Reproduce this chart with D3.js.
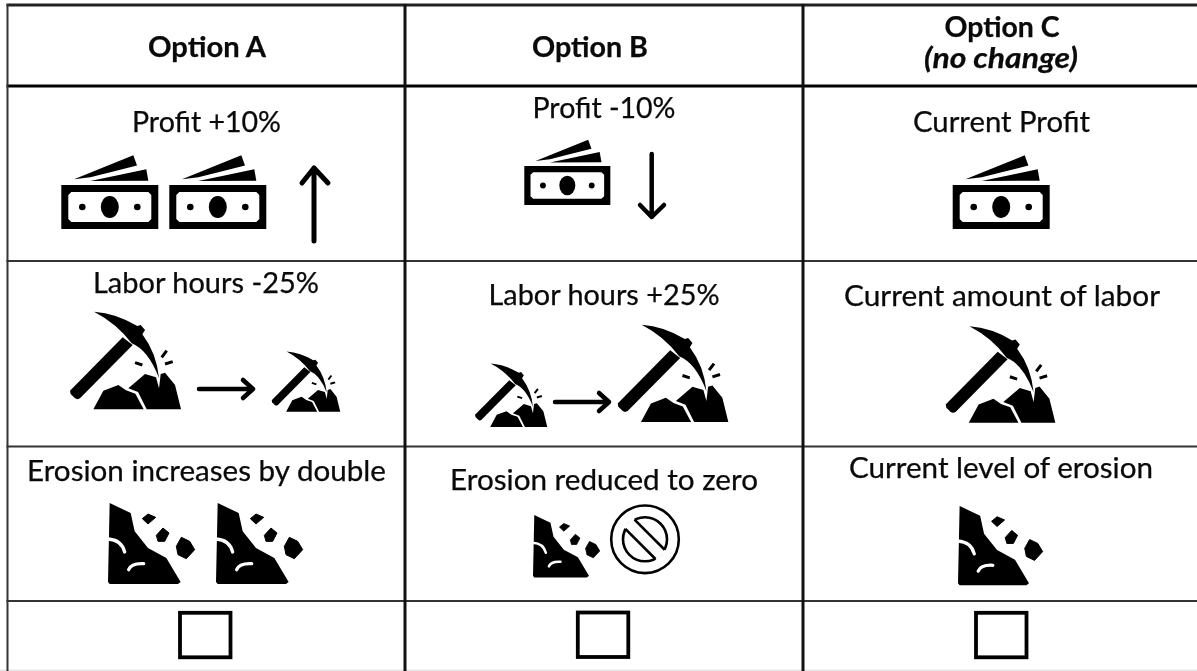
<!DOCTYPE html>
<html><head><meta charset="utf-8">
<script src="https://cdn.jsdelivr.net/npm/d3@7/dist/d3.min.js"></script>
<style>html,body{margin:0;padding:0;background:#fff;overflow:hidden}svg{display:block;filter:blur(0.4px)}text{font-family:Lato,"Open Sans",sans-serif;fill:#0a0a0a;stroke:#0a0a0a;stroke-width:.25px}</style>
</head><body><svg id="c" width="1197" height="671"></svg>
<script>
const headers = ["Option A","Option B","Option C"];
const headerNote = "(no change)";
const profitLabels = ["Profit +10%","Profit -10%","Current Profit"];
const laborLabels = ["Labor hours -25%","Labor hours +25%","Current amount of labor"];
const erosionLabels = ["Erosion increases by double","Erosion reduced to zero","Current level of erosion"];

const svg = d3.select("#c");
const W = 1197, H = 671;
const hRules = [[5,3,"#222"],[86,3,"#000"],[261,2,"#333"],[446.5,2,"#333"],[601,2,"#333"]];
const vRules = [[7.5,2,"#333"],[405,3,"#111"],[803,3,"#111"]];
svg.append("rect").attr("x",0).attr("y",669.5).attr("width",W).attr("height",1.5).attr("fill","#e6e6e6");
svg.selectAll(".h").data(hRules).join("line").attr("class","h").attr("x1",6.5).attr("x2",W).attr("y1",d=>d[0]).attr("y2",d=>d[0]).attr("stroke",d=>d[2]).attr("stroke-width",d=>d[1]);
svg.selectAll(".v").data(vRules).join("line").attr("class","v").attr("x1",d=>d[0]).attr("x2",d=>d[0]).attr("y1",4).attr("y2",H).attr("stroke",d=>d[2]).attr("stroke-width",d=>d[1]);

function label(t,x,y,w,o={}){
  const n = svg.append("text").attr("x",x).attr("y",y).attr("text-anchor","middle")
    .attr("font-size",o.size||28).attr("font-weight",o.bold?700:400).attr("font-style",o.italic?"italic":"normal").text(t);
  if(w){ n.attr("textLength",w).attr("lengthAdjust","spacingAndGlyphs"); }
}
label(headers[0],207,57,118,{bold:true});
label(headers[1],590,57,116,{bold:true});
label(headers[2],1002,37,115,{bold:true});
label(headerNote,1001,68,154,{bold:true,italic:true});
const rowsText = [
 [profitLabels,[[206.5,131.5,149],[604,118,143],[1001.5,131.5,177]]],
 [laborLabels,[[206,293,226],[604,305,231],[1002,306,316]]],
 [erosionLabels,[[206.5,481,359],[604,490,308],[1001,478,304]]]
];
rowsText.forEach(([labels,pos])=>labels.forEach((t,i)=>label(t,pos[i][0],pos[i][1],pos[i][2])));

function money(x,y,s){
  const g = svg.append("g").attr("transform",`translate(${x},${y}) scale(${s})`);
  g.append("path").attr("fill","#000").attr("d","M0,0H97V44H0Z");
  g.append("path").attr("fill","#fff").attr("d","M10,7H87L90,10V34L87,37H10L7,34V10Z");
  g.append("ellipse").attr("cx",48.5).attr("cy",22).attr("rx",9).attr("ry",11).attr("fill","#000");
  [21,76].forEach(cx=>g.append("circle").attr("cx",cx).attr("cy",22).attr("r",3.3).attr("fill","#000"));
  g.append("path").attr("fill","#000").attr("d","M12.7,-5.7L72,-29.7L75.7,-19.5L52,-13.5L29,-7.7Z");
  g.append("path").attr("fill","#000").attr("d","M29,-4L85,-15.7L87,-4.3Z");
}
function pick(x,y,w){
  const s = w/335;
  const g = svg.append("g").attr("transform",`translate(${x},${y}) scale(${s})`);
  g.append("path").attr("fill","#000").attr("d","M72,2Q140,7 202,45L212,42L225,57L217,70Q260,127 267,202Q235,117 185,97Q140,37 72,2Z");
  g.append("path").attr("fill","#000").attr("d","M0,239L158,79L188,102L30,262Q22,267 15,262L2,249Z");
  g.append("path").attr("fill","#000").attr("d","M70,295L100,239L145,222L168,238L196,248L221,295Z");
  g.append("path").attr("fill","#000").attr("d","M230,295L204,243L175,232L225,189L258,199L267,232L272,189L285,185L315,222L333,295Z");
  g.append("g").attr("stroke","#000").attr("stroke-width",9).selectAll("line")
    .data([[195,155,217,162],[275,139,290,119],[285,159,308,152]]).join("line")
    .attr("x1",d=>d[0]).attr("y1",d=>d[1]).attr("x2",d=>d[2]).attr("y2",d=>d[3]);
}
function erosion(x,y,w){
  const s = w/261;
  const g = svg.append("g").attr("transform",`translate(${x},${y}) scale(${s})`);
  g.append("path").attr("fill","#000").attr("d","M5,0L68,30L80,85L120,135L175,165L218,237L210,243L5,243L0,237Z");
  g.append("path").attr("fill","none").attr("stroke","#fff").attr("stroke-width",10).attr("stroke-linecap","round").attr("d","M0,108Q40,110 50,147M62,200Q70,180 107,182");
  ["M103,47L120,33L143,43L120,63Z","M145,97L165,75L183,90L170,115L150,115Z","M220,103L245,115L260,140L235,167L210,155L205,130Z"]
    .forEach(d=>g.append("path").attr("fill","#000").attr("stroke","#000").attr("stroke-width",3).attr("stroke-linejoin","round").attr("d",d));
}
function arrow(x1,y1,x2,y2,hx1,hy1,hx2,hy2,sw){
  svg.append("path").attr("fill","none").attr("stroke","#000").attr("stroke-width",sw).attr("stroke-linecap","round").attr("stroke-linejoin","round")
    .attr("d",`M${x1},${y1}L${x2},${y2}M${hx1},${hy1}L${x2},${y2}L${hx2},${hy2}`);
}
function noSign(cx,cy){
  const g = svg.append("g").attr("transform",`translate(${cx},${cy})`);
  g.append("circle").attr("r",33.8).attr("fill","#fff").attr("stroke","#000").attr("stroke-width",2.6);
  g.append("circle").attr("r",22).attr("fill","#fff").attr("stroke","#000").attr("stroke-width",2.6);
  const b = g.append("g").attr("transform","rotate(45)");
  b.append("rect").attr("x",-23.5).attr("y",-6.5).attr("width",47).attr("height",13).attr("fill","#fff");
  [-6.5,6.5].forEach(y=>b.append("line").attr("x1",-21.3).attr("x2",21.3).attr("y1",y).attr("y2",y).attr("stroke","#000").attr("stroke-width",2.6));
}
function box(x,y,w,h){
  svg.append("rect").attr("x",x).attr("y",y).attr("width",w).attr("height",h).attr("fill","none").attr("stroke","#000").attr("stroke-width",3.8);
}

money(61.3,185,1); money(169.3,185,1); arrow(314,241,314,168,302,183,328,183,5);
money(524.3,166,.887); arrow(651.7,154,651.7,217,640,205,664,205,4.5);
money(952.7,185,1);

pick(70,311,111.7); arrow(199,389,253,389,243,380,243,398,4.5); pick(271.7,351,69);
pick(475,363,72.7); arrow(555,402,609,402,599,393,599,411,4.5); pick(617.7,324,111.3);
pick(945.7,325.7,110.3);

erosion(108,503,87); erosion(216,503,87);
erosion(533,515,67); noSign(645,539.3);
erosion(958,506,85);

box(180,612.8,50.5,44.5); box(577.8,612.5,50.5,44.5); box(976,612.8,50.5,44.5);
</script></body></html>
